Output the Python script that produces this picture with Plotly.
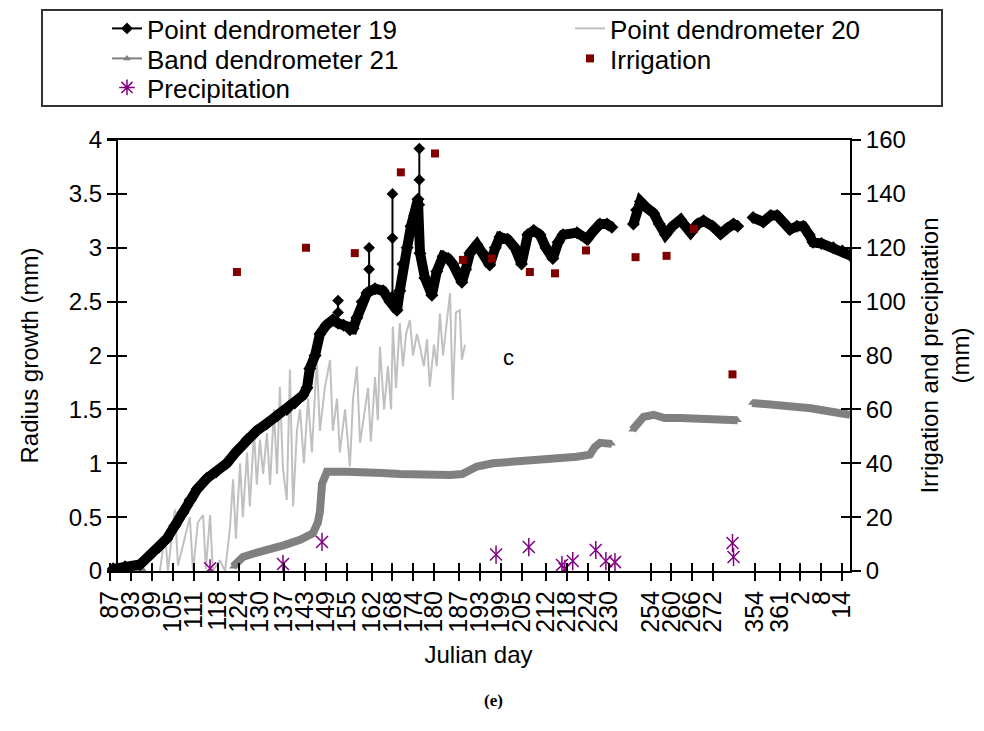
import plotly.graph_objects as go

# ---------------- data (Julian days; values > 365 belong to the following year) ----------------
tick_days = [87, 93, 99, 105, 111, 118, 124, 130, 137, 143, 149, 155, 162, 168, 174, 180,
             187, 193, 199, 205, 212, 218, 224, 230, 254, 260, 266, 272, 354, 361, 367, 373, 379]

pd19_days = [87.9, 91.3, 95.6, 98.5, 101.0, 103.3, 105.6, 107.9, 110.0, 112.0, 114.8, 117.5, 120.5,
             123.3, 126.3, 129.0, 132.0, 134.9, 137.7, 140.0, 142.3, 143.5, 144.3, 145.8, 147.2, 149.0,
             150.9, 152.4, 154.0, 155.8, 156.7, 157.8, 159.3, 160.7, 163.0, 165.3, 167.3, 169.3, 170.1,
             171.0, 172.2, 173.3, 174.4, 175.3, 175.9, 177.3, 179.3, 180.7, 182.5, 184.0, 185.3, 187.9,
             189.0, 190.2, 192.2, 194.0, 195.9, 197.5, 198.8, 201.0, 203.1, 205.0, 206.8, 208.5, 210.3,
             212.0, 214.0, 215.5, 216.9, 220.9, 223.8, 225.5, 227.5, 229.5, 230.9, None,
             249.1, 250.0, 251.1, 252.6, 254.9, 256.5, 258.3, 260.3, 262.6, 264.0, 265.5, 267.5, 269.2,
             271.8, 274.1, 276.0, 277.8, 279.0, None,
             353.4, 356.3, 358.5, 360.3, 362.0, 364.0, 366.0, 367.8, 369.5, 370.6, 373.0, 376.4, 379.0, 381.2]
pd19_vals = [0.02, 0.04, 0.06, 0.15, 0.22, 0.30, 0.42, 0.54, 0.66, 0.76, 0.86, 0.92, 1.00,
             1.11, 1.22, 1.30, 1.37, 1.44, 1.50, 1.56, 1.63, 1.70, 1.88, 2.00, 2.20, 2.28,
             2.33, 2.30, 2.28, 2.24, 2.25, 2.35, 2.50, 2.58, 2.62, 2.60, 2.50, 2.42, 2.60,
             2.85, 3.00, 3.20, 3.30, 3.45, 2.95, 2.72, 2.56, 2.78, 2.92, 2.90, 2.85, 2.68,
             2.80, 2.95, 3.03, 2.95, 2.84, 3.00, 3.10, 3.08, 3.00, 2.85, 3.12, 3.16, 3.12,
             3.00, 2.90, 3.05, 3.12, 3.14, 3.08, 3.15, 3.22, 3.22, 3.19, None,
             3.22, 3.35, 3.43, 3.38, 3.32, 3.22, 3.12, 3.20, 3.26, 3.20, 3.14, 3.22, 3.25,
             3.20, 3.13, 3.18, 3.22, 3.20, None,
             3.28, 3.24, 3.30, 3.30, 3.24, 3.17, 3.20, 3.20, 3.12, 3.05, 3.04, 3.00, 2.97, 2.93]

# isolated spikes of point dendrometer 19
pd19_spike_days = [152.4, 161.3, 168.0, 175.7]
pd19_spike_base = [2.30, 2.60, 2.55, 3.40]
pd19_spike_mid = [2.40, 2.80, 3.09, 3.63]
pd19_spike_top = [2.51, 3.00, 3.50, 3.92]

pd20_days = [101.3, 102.8, 103.6, 105.6, 106.5, 108.5, 109.9, 110.8, 112.2, 113.7, 114.5, 115.7, 116.5,
             118.5, 120.0, 121.4, 122.3, 123.1, 124.3, 125.1, 126.3, 127.1, 128.3, 129.1, 130.0, 130.9,
             132.0, 132.9, 134.0, 134.9, 135.7, 136.6, 137.7, 138.6, 139.5, 140.6, 141.5, 142.6, 143.8,
             144.9, 146.3, 147.2, 148.6, 150.1, 150.9, 152.1, 152.9, 154.4, 155.8, 156.7, 157.8, 158.7,
             160.1, 161.0, 161.8, 163.0, 163.8, 164.4, 165.6, 166.7, 167.6, 168.1, 169.0, 170.1, 171.0,
             171.9, 173.0, 173.9, 175.0, 175.9, 177.0, 177.9, 178.7, 179.9, 180.7, 181.6, 182.5, 183.6,
             184.5, 185.3, 186.2, 187.3, 187.9, 188.8]
pd20_vals = [0.0, 0.35, 0.0, 0.57, 0.05, 0.3, 0.5, 0.0, 0.45, 0.52, 0.02, 0.52, 0.0,
             0.1, 0.0, 0.4, 0.85, 0.3, 1.0, 0.5, 1.1, 0.6, 1.3, 0.8, 1.22, 0.9,
             1.28, 0.8, 1.5, 0.9, 1.71, 0.95, 0.66, 1.87, 0.6, 1.3, 1.5, 1.0, 1.6,
             1.1, 1.96, 1.3, 1.7, 1.96, 1.3, 1.6, 1.1, 1.5, 0.97, 1.6, 1.9, 1.19,
             1.5, 1.7, 1.2, 1.8, 1.4, 2.08, 1.5, 1.9, 1.5, 2.27, 1.7, 2.3, 1.9,
             2.2, 2.33, 2.0, 2.2, 2.08, 1.9, 2.15, 1.71, 2.1, 1.9, 2.39, 2.0, 2.3,
             2.58, 1.59, 2.4, 2.42, 1.96, 2.1]

bd21_days = [87.9, 91.3, 96.5, None, 122.3, 125.1, 128.0, 132.0, 137.0, 141.5, 145.2,
             146.6, 147.2, 147.8, 149.2, 155.0, 160.7, 165.0, 170.1, 177.0, 184.5, 188.0, 192.2, 196.8,
             202.0, 207.4, 214.0, 220.9, 224.6, 226.0, 227.5, 230.9, None,
             248.8, 250.5, 252.0, 254.9, 258.0, 262.6, 270.0, 277.8, 279.0, None,
             353.1, 358.0, 362.0, 366.0, 370.0, 375.5, 381.2]
bd21_vals = [0.01, 0.02, 0.01, None, 0.04, 0.13, 0.16, 0.19, 0.24, 0.29, 0.35,
             0.45, 0.55, 0.81, 0.92, 0.92, 0.92, 0.91, 0.90, 0.89, 0.89, 0.90, 0.97, 1.00,
             1.01, 1.03, 1.04, 1.06, 1.08, 1.15, 1.19, 1.18, None,
             1.31, 1.38, 1.43, 1.45, 1.42, 1.42, 1.41, 1.40, 1.40, None,
             1.56, 1.55, 1.54, 1.52, 1.51, 1.48, 1.45]

irr_days = [123.4, 143.2, 157.2, 170.4, 180.2, 188.2, 196.5, 207.4, 214.6, 223.5, 249.7, 258.6, 266.4, 277.5]
irr_mm = [111, 120, 118, 148, 155, 115.5, 116, 111, 110.5, 119, 116.5, 117, 127, 73]

prec_days = [115.7, 136.6, 147.8, 197.7, 207.1, 216.6, 217.4, 219.7, 226.3, 229.2, 231.8, 277.5, 277.8]
prec_mm = [1.0, 2.6, 10.8, 6.1, 8.9, 2.2, 0.8, 3.7, 7.8, 3.7, 3.3, 10.4, 5.2]


# ---------------- record axis: measurement record with compressed data gaps ----------------
def pos(d):
    if d is None:
        return None
    if d < 240:
        return d - 87
    if d < 300:
        return d - 99
    return d - 169


def P(days):
    return [pos(d) for d in days]


tick_pos = P(tick_days)
tick_text = [str(d) if d <= 365 else str(d - 365) for d in tick_days]

FONT = "Liberation Sans, Arial, sans-serif"
BLACK = "#000000"
PD19 = "#000000"
PD20 = "#C0C0C0"
BD21 = "#808080"
IRR = "#800000"
PREC = "#800080"

fig = go.Figure()

# data traces (drawn order)
fig.add_trace(go.Scatter(x=P(pd20_days), y=pd20_vals, mode="lines",
                         line=dict(color=PD20, width=2), showlegend=False))
fig.add_trace(go.Scatter(x=P(bd21_days), y=bd21_vals, mode="lines+markers",
                         line=dict(color=BD21, width=8), marker=dict(symbol="triangle-up", size=7, color=BD21),
                         showlegend=False))
fig.add_trace(go.Scatter(x=P(pd19_days), y=pd19_vals, mode="lines+markers",
                         line=dict(color=PD19, width=10), marker=dict(symbol="diamond", size=10, color=PD19),
                         showlegend=False))
sx, sy = [], []
for d, b, m, t in zip(pd19_spike_days, pd19_spike_base, pd19_spike_mid, pd19_spike_top):
    sx += [pos(d), pos(d), pos(d), None]
    sy += [b, m, t, None]
fig.add_trace(go.Scatter(x=sx, y=sy, mode="lines+markers",
                         line=dict(color=PD19, width=2), marker=dict(symbol="diamond", size=9, color=PD19),
                         showlegend=False))
fig.add_trace(go.Scatter(x=P(irr_days), y=irr_mm, yaxis="y2", mode="markers",
                         marker=dict(symbol="square", size=8, color=IRR), showlegend=False))
fig.add_trace(go.Scatter(x=P(prec_days), y=prec_mm, yaxis="y2", mode="markers",
                         marker=dict(symbol="x-thin-open", size=12, color=PREC, line=dict(color=PREC, width=1.5)),
                         showlegend=False))
fig.add_trace(go.Scatter(x=P(prec_days), y=prec_mm, yaxis="y2", mode="markers",
                         marker=dict(symbol="line-ns-open", size=13, color=PREC, line=dict(color=PREC, width=1.5)),
                         showlegend=False))

# legend entries (one legend per box cell)
fig.add_trace(go.Scatter(x=[None], y=[None], mode="lines+markers", name="Point dendrometer 19",
                         line=dict(color=PD19, width=2), marker=dict(symbol="diamond", size=9, color=PD19),
                         legend="legend6"))
fig.add_trace(go.Scatter(x=[None], y=[None], mode="lines", name="Point dendrometer 20",
                         line=dict(color=PD20, width=2), legend="legend2"))
fig.add_trace(go.Scatter(x=[None], y=[None], mode="lines+markers", name="Band dendrometer 21",
                         line=dict(color=BD21, width=2), marker=dict(symbol="triangle-up", size=7, color=BD21),
                         legend="legend3"))
fig.add_trace(go.Scatter(x=[None], y=[None], mode="markers", name="Irrigation",
                         marker=dict(symbol="square", size=8, color=IRR), legend="legend4"))
fig.add_trace(go.Scatter(x=[None], y=[None], mode="markers", name="Precipitation",
                         marker=dict(symbol="asterisk-open", size=13, color=PREC, line=dict(color=PREC, width=1.5)),
                         legend="legend5"))

# helper traces for cross-style tick marks
fig.add_trace(go.Scatter(x=[None], y=[None], xaxis="x2", showlegend=False))
fig.add_trace(go.Scatter(x=[None], y=[None], yaxis="y3", showlegend=False))
fig.add_trace(go.Scatter(x=[None], y=[None], yaxis="y4", showlegend=False))

W, H = 984, 731
L, R, T, B = 107, 134, 140, 160
pw = W - L - R
ph = H - T - B
yaxis_px = 117


def px_x(p):
    return (p - L) / pw


def px_y(p):
    return (H - B - p) / ph


x_range = [-0.86, 212.2]
tickfont = dict(family=FONT, size=24, color=BLACK)
xtickfont = dict(family=FONT, size=25, color=BLACK)
titlefont = dict(family=FONT, size=24, color=BLACK)


def leg(xp, yp):
    return dict(x=px_x(xp), y=px_y(yp), xanchor="left", yanchor="top", orientation="v",
                font=dict(family=FONT, size=26, color=BLACK), bgcolor="rgba(0,0,0,0)",
                borderwidth=0, tracegroupgap=0)


fig.update_layout(
    width=W, height=H,
    margin=dict(l=L, r=R, t=T, b=B, autoexpand=False),
    paper_bgcolor="white", plot_bgcolor="white",
    font=dict(family=FONT, size=26, color=BLACK),
    xaxis=dict(domain=[0, 1], range=x_range, tickmode="array", tickvals=tick_pos, ticktext=tick_text,
               tickangle=-90, ticks="outside", ticklen=8, tickwidth=2, tickcolor=BLACK,
               showline=True, linewidth=2, linecolor=BLACK, mirror=True,
               showgrid=False, zeroline=False, tickfont=xtickfont,
               title=dict(text="Julian day", font=titlefont, standoff=14)),
    xaxis2=dict(overlaying="x", matches="x", anchor="y", tickmode="array", tickvals=tick_pos,
                ticks="inside", ticklen=8, tickwidth=2, tickcolor=BLACK, showticklabels=False,
                showline=False, showgrid=False, zeroline=False),
    yaxis=dict(range=[0, 4], dtick=0.5, anchor="free", position=px_x(yaxis_px),
               ticks="outside", ticklen=9, tickwidth=2, tickcolor=BLACK,
               showline=True, linewidth=2, linecolor=BLACK, showgrid=False, zeroline=False,
               tickfont=tickfont,
               title=dict(text="Radius growth (mm)", font=titlefont, standoff=22)),
    yaxis3=dict(overlaying="y", matches="y", anchor="free", position=px_x(yaxis_px), dtick=0.5,
                ticks="inside", ticklen=9, tickwidth=2, tickcolor=BLACK, showticklabels=False,
                showline=False, showgrid=False, zeroline=False),
    yaxis2=dict(range=[0, 160], dtick=20, overlaying="y", side="right", anchor="x",
                ticks="outside", ticklen=9, tickwidth=2, tickcolor=BLACK,
                showline=True, linewidth=2, linecolor=BLACK, showgrid=False, zeroline=False,
                tickfont=tickfont,
                title=dict(text="Irrigation and precipitation<br>(mm)", font=titlefont, standoff=16)),
    yaxis4=dict(overlaying="y", matches="y2", side="right", anchor="x", dtick=20,
                ticks="inside", ticklen=9, tickwidth=2, tickcolor=BLACK, showticklabels=False,
                showline=False, showgrid=False, zeroline=False),
    legend6=leg(107, 5),
    legend2=leg(570, 5),
    legend3=leg(107, 35),
    legend4=leg(570, 35),
    legend5=leg(107, 64),
    shapes=[dict(type="rect", xref="paper", yref="paper",
                 x0=px_x(42), x1=px_x(942), y0=px_y(106), y1=px_y(10),
                 line=dict(color="#333333", width=2), fillcolor="rgba(0,0,0,0)")],
    annotations=[
        dict(text="c", xref="paper", yref="paper", x=px_x(508), y=px_y(357), showarrow=False,
             font=dict(family=FONT, size=22, color=BLACK)),
        dict(text="<b>(e)</b>", xref="paper", yref="paper", x=px_x(493), y=px_y(712), showarrow=False,
             font=dict(family="Liberation Serif, Times New Roman, serif", size=17, color=BLACK)),
    ],
    showlegend=True,
)

fig.write_html("out.html")
